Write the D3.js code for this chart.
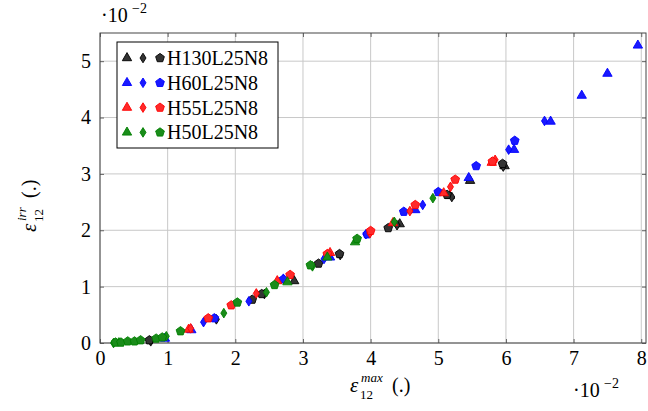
<!DOCTYPE html>
<html><head><meta charset="utf-8">
<script src="https://cdn.jsdelivr.net/npm/d3@7"></script>
<style>body{margin:0;background:#fff}svg{display:block}</style>
</head><body><svg id="c" width="648" height="411"></svg>
<script>
const xTicks=[0,1,2,3,4,5,6,7,8];
const yTicks=[0,1,2,3,4,5];
const seriesNames=["H130L25N8","H60L25N8","H55L25N8","H50L25N8"];
const seriesColors=["#000000","#0000ff","#ff0000","#008000"];
const seriesFills=["#333333","#1a1aff","#ff2a2a","#1a8c1a"];
const markerKinds=["triangle","diamond","pentagon"];
// values in units of 1e-2: [x, y]
const h130Tri=[[2.87,1.10],[4.43,2.11],[5.17,2.61],[5.47,2.88],[5.98,3.14]];
const h130Dia=[[0.75,0.03],[1.72,0.42],[2.43,0.87],[3.55,1.56],[4.39,2.09],[5.20,2.59],[5.96,3.13]];
const h130Pen=[[0.73,0.05],[2.25,0.77],[2.39,0.87],[3.23,1.41],[3.54,1.58],[4.26,2.04],[5.13,2.63],[5.95,3.18]];
const h60Tri=[[0.96,0.08],[1.35,0.23],[2.71,1.13],[3.40,1.52],[4.66,2.36],[5.45,2.93],[6.12,3.43],[6.66,3.93],[7.12,4.39],[7.50,4.78],[7.95,5.28]];
const h60Dia=[[1.53,0.37],[2.20,0.74],[3.31,1.49],[3.93,1.93],[4.77,2.45],[6.04,3.43],[6.57,3.94]];
const h60Pen=[[1.69,0.44],[2.71,1.13],[3.95,1.93],[4.49,2.33],[5.00,2.68],[5.56,3.14],[6.13,3.59]];
const h55Tri=[[1.31,0.24],[2.62,1.10],[3.40,1.60],[4.33,2.13],[5.08,2.66],[5.79,3.20]];
const h55Dia=[[1.34,0.26],[2.31,0.88],[3.36,1.57],[3.99,1.95],[4.58,2.34],[5.18,2.77],[5.84,3.25]];
const h55Pen=[[1.60,0.44],[1.94,0.67],[2.81,1.21],[3.36,1.58],[4.00,1.99],[4.66,2.45],[5.25,2.90],[5.80,3.22]];
const h50Tri=[[0.28,0.00],[2.77,1.08],[3.36,1.52],[3.77,1.79]];
const h50Dia=[[0.20,0.00],[0.98,0.12],[1.83,0.53],[2.46,0.90],[3.14,1.36],[4.35,2.15],[4.92,2.57]];
const h50Pen=[[0.23,0.01],[0.31,0.01],[0.41,0.03],[0.51,0.03],[0.60,0.05],[0.83,0.08],[0.92,0.10],[1.19,0.21],[2.03,0.72],[2.58,1.03],[3.11,1.38],[3.80,1.85]];
const data=[[h130Tri,h130Dia,h130Pen],[h60Tri,h60Dia,h60Pen],[h55Tri,h55Dia,h55Pen],[h50Tri,h50Dia,h50Pen]];

const FONT="'Liberation Serif'";
const svg=d3.select("#c");
const L=100,R=646,T=33,B=343;
const x=d3.scaleLinear().domain([0,8.07]).range([L,R]);
const y=d3.scaleLinear().domain([0,5.5]).range([B,T]);

// grid
svg.append("g").selectAll("line").data(xTicks).join("line")
 .attr("x1",d=>x(d)).attr("x2",d=>x(d)).attr("y1",T).attr("y2",B).attr("stroke","#c8c8c8").attr("stroke-width",1);
svg.append("g").selectAll("line").data(yTicks).join("line")
 .attr("y1",d=>y(d)).attr("y2",d=>y(d)).attr("x1",L).attr("x2",R).attr("stroke","#c8c8c8").attr("stroke-width",1);

// axes
const fmt=d3.format("d");
const gx=svg.append("g").attr("transform",`translate(0,${B})`).call(d3.axisBottom(x).tickValues(xTicks).tickFormat(fmt).tickSize(-4).tickPadding(8));
const gxt=svg.append("g").attr("transform",`translate(0,${T})`).call(d3.axisTop(x).tickValues(xTicks).tickFormat("").tickSize(-4));
const gy=svg.append("g").attr("transform",`translate(${L},0)`).call(d3.axisLeft(y).tickValues(yTicks).tickFormat(fmt).tickSize(-4).tickPadding(9));
const gyr=svg.append("g").attr("transform",`translate(${R},0)`).call(d3.axisRight(y).tickValues(yTicks).tickFormat("").tickSize(-4));
[gx,gxt,gy,gyr].forEach(g=>{g.select(".domain").remove();g.selectAll(".tick line").attr("stroke","#444").attr("stroke-width",0.8);
 g.selectAll("text").style("font-family",FONT).attr("font-size",20).attr("fill","#000");});
gx.selectAll("text").attr("dy","0.71em");
svg.append("rect").attr("x",L).attr("y",T).attr("width",R-L).attr("height",B-T).attr("fill","none").attr("stroke","#444").attr("stroke-width",1);

// markers
function sym(kind){
 if(kind==="triangle") return d3.symbol().type(d3.symbolTriangle).size(38)();
 if(kind==="diamond") return "M0,-4.8L3,0L0,4.8L-3,0Z";
 const r=4.6;let p=[];for(let i=0;i<5;i++){const a=-Math.PI/2+i*2*Math.PI/5;p.push([r*Math.cos(a),r*Math.sin(a)]);}
 return "M"+p.map(q=>q.join(",")).join("L")+"Z";
}
[0,1,2,3].forEach(si=>{
 data[si].forEach((arr,mi)=>{
  svg.append("g").selectAll("path").data(arr).join("path")
   .attr("d",sym(markerKinds[mi]))
   .attr("transform",d=>`translate(${x(d[0])},${y(d[1])})`)
   .attr("fill",seriesFills[si]).attr("stroke",seriesColors[si]).attr("stroke-width",0.9);
 });
});

function txt(g,xp,yp,s,size,italic){
 return g.append("text").attr("x",xp).attr("y",yp).attr("font-size",size).style("font-family",FONT)
  .attr("font-style",italic?"italic":"normal").attr("fill","#000").text(s);
}
// exponent labels
txt(svg,101,22,"·10",20); txt(svg,132,13,"−2",14);
txt(svg,573,397,"·10",20); txt(svg,604,388,"−2",14);

// axis labels
const xg=svg.append("g").attr("transform","translate(350,0)");
txt(xg,0,392,"ε",21,true);
txt(xg,10,399,"12",13);
txt(xg,11,382,"max",13,true);
txt(xg,42,392,"(.)",20);

const yg=svg.append("g").attr("transform","translate(36,232) rotate(-90)");
txt(yg,0,0,"ε",21,true);
txt(yg,10,7,"12",13);
txt(yg,11,-10,"irr",13,true);
txt(yg,34,0,"(.)",20);

// legend
const lg=svg.append("g");
lg.append("rect").attr("x",117).attr("y",42).attr("width",161).attr("height",106).attr("fill","#fff").attr("stroke","#000").attr("stroke-width",1);
seriesNames.forEach((n,i)=>{
 const cy=58+i*24.8;
 markerKinds.forEach((k,mi)=>{
  lg.append("path").attr("d",sym(k)).attr("transform",`translate(${[127,143,160][mi]},${cy})`)
   .attr("fill",seriesFills[i]).attr("stroke",seriesColors[i]).attr("stroke-width",0.9);
 });
 txt(lg,167,cy+7,n,20);
});
</script></body></html>
